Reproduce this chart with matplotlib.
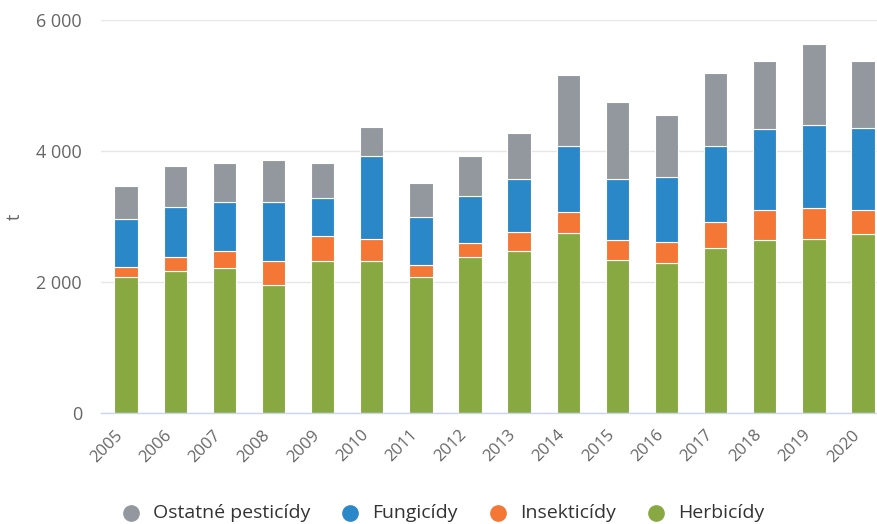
import numpy as np
import matplotlib
matplotlib.use("Agg")
import matplotlib.pyplot as plt

plt.rcParams['font.family'] = ['Open Sans', 'DejaVu Sans']

# values (tonnes)
years = [str(y) for y in range(2005, 2021)]
herbicidy = [2076, 2172, 2218, 1959, 2330, 2330, 2076, 2382, 2483, 2757, 2340, 2290, 2528, 2646, 2666, 2737]
insekticidy = [162, 214, 261, 371, 381, 336, 183, 213, 280, 316, 306, 330, 397, 453, 468, 371]
fungicidy = [728, 764, 747, 896, 581, 1267, 733, 723, 819, 1008, 936, 983, 1156, 1237, 1272, 1248]
ostatne = [509, 630, 600, 646, 534, 438, 529, 610, 693, 1084, 1166, 951, 1110, 1042, 1237, 1022]

# bottom-up stacking order, legend shows top-down
series = [
    ("Herbicídy", herbicidy, "#88a941"),
    ("Insekticídy", insekticidy, "#f47735"),
    ("Fungicídy", fungicidy, "#2b88c8"),
    ("Ostatné pesticídy", ostatne, "#93979e"),
]

W, H = 878, 524
fig = plt.figure(figsize=(W / 100, H / 100), dpi=100)
ax = fig.add_axes([101.5 / W, (H - 413.3) / H, (W - 101.5) / W, (413.3 - 20.3) / H])

x = np.arange(len(years))
bottom = np.zeros(len(years))
for name, vals, col in series:
    ax.bar(x, vals, width=0.476, bottom=bottom, color=col,
           edgecolor="white", linewidth=0.8, zorder=3)
    bottom += np.array(vals)

ax.set_xlim(-0.5, 15.305)
ax.set_ylim(0, 6000)
ax.set_yticks([0, 2000, 4000, 6000])
ax.set_yticklabels(["0", "2 000", "4 000", "6 000"])
ax.grid(axis="y", color="#e6e6e6", linewidth=1, zorder=0)
ax.set_axisbelow(True)

for s in ["left", "right", "top"]:
    ax.spines[s].set_visible(False)
ax.spines["bottom"].set_color("#ccd6eb")
ax.spines["bottom"].set_linewidth(1)
ax.spines["bottom"].set_zorder(4)

ax.tick_params(axis="y", length=0, pad=14, labelsize=13, labelcolor="#666666")
ax.tick_params(axis="x", length=0, pad=18, labelsize=12, labelcolor="#666666")
ax.set_xticks(x)
ax.set_xticklabels(years, rotation=45, ha="right", va="bottom", rotation_mode="anchor")

ax.set_ylabel("t", fontsize=13, color="#666666")
ax.yaxis.set_label_coords(-0.1, 0.5)

# legend drawn by hand to match the original spacing
legend_items = list(reversed(series))
marker_x = [131, 350, 498, 656]
text_x = [153, 372, 520, 678]
ly = (H - 513) / H
for (name, vals, col), mx, tx in zip(legend_items, marker_x, text_x):
    fig.lines.append(plt.Line2D([mx / W], [ly], marker="o", markersize=11,
                                color=col, transform=fig.transFigure))
    fig.text(tx / W, ly, name, fontsize=14, color="#333333", va="center", ha="left")

fig.savefig("out.png", dpi=100)
